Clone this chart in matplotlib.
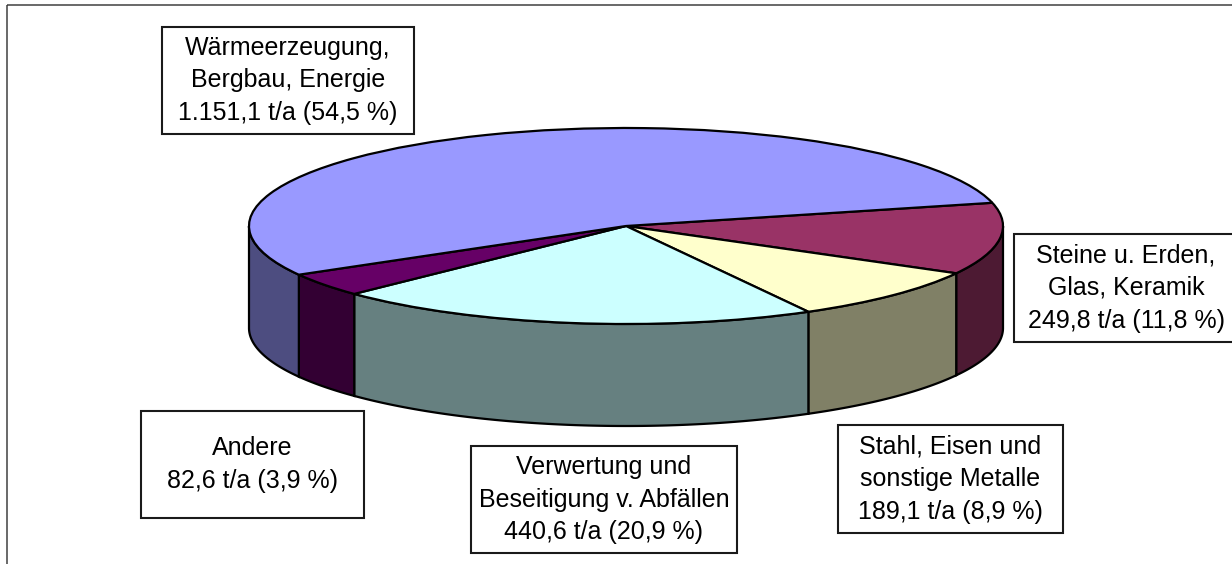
import numpy as np
import matplotlib
matplotlib.use('Agg')
import matplotlib.pyplot as plt
from matplotlib.patches import Rectangle

plt.rcParams['font.family'] = ['Liberation Sans', 'DejaVu Sans']

# Values in t/a, clockwise from the blue/maroon border
sectors = ['Steine u. Erden,\nGlas, Keramik', 'Stahl, Eisen und\nsonstige Metalle',
           'Verwertung und\nBeseitigung v. Abfällen', 'Andere', 'Wärmeerzeugung,\nBergbau, Energie']
tons = [249.8, 189.1, 440.6, 82.6, 1151.1]
value_labels = ['249,8 t/a (11,8 %)', '189,1 t/a (8,9 %)', '440,6 t/a (20,9 %)',
                '82,6 t/a (3,9 %)', '1.151,1 t/a (54,5 %)']
top_colors = ['#993366', '#FFFFCC', '#CCFFFF', '#660066', '#9999FF']
side_colors = ['#4D1A33', '#808066', '#668080', '#330033', '#4D4D80']

# Label boxes in pixels: left, top, right, bottom
boxes = [(1014, 234, 1240, 342), (838, 425, 1063, 533), (471, 446, 737, 553),
         (141, 411, 364, 518), (162, 27, 414, 134)]

W, H = 1232, 564
CX, CY, RX, RY = 626, 226, 377, 98
DEPTH = 102
START = 13.7


# Front wall of one slice, only the part between 180 and 360 degrees is visible
def drawSide(ax, a, b, color):
	a, b = a % 360, b % 360
	if b <= a:
		b += 360
	for lo, hi in ((180, 360), (540, 720)):
		t1, t2 = max(a, lo), min(b, hi)
		if t2 <= t1:
			continue
		t = np.radians(np.linspace(t1, t2, 120))
		x = np.cos(t)
		y = np.sin(t)
		d = DEPTH / RY
		ax.fill(np.r_[x, x[::-1]], np.r_[y, y[::-1] - d], fc=color, ec='black', lw=1.6, zorder=1)


fig = plt.figure(figsize=(W / 100, H / 100), dpi=100)

# Axes where the top ellipse is the unit circle
ax = fig.add_axes([0, 0, 1, 1])
ax.pie(tons, colors=top_colors, startangle=START, counterclock=False, radius=1,
       wedgeprops={'edgecolor': 'black', 'linewidth': 1.6, 'zorder': 2})
ax.set_aspect('auto')
ax.set_xlim(-CX / RX, (W - CX) / RX)
ax.set_ylim(-(H - CY) / RY, CY / RY)
ax.axis('off')

angle = START
for v, c in zip(tons, side_colors):
	next_angle = angle - v / sum(tons) * 360
	drawSide(ax, next_angle, angle, c)
	angle = next_angle

# Overlay in pixel coordinates for frame and labels
over = fig.add_axes([0, 0, 1, 1], facecolor='none')
over.set_xlim(0, W)
over.set_ylim(H, 0)
over.axis('off')
over.add_patch(Rectangle((7, 4.5), W + 20, H + 20, fc='none', ec='#404040', lw=1.1))

for name, val, b in zip(sectors, value_labels, boxes):
	x0, y0, x1, y1 = b
	over.add_patch(Rectangle((x0, y0), x1 - x0, y1 - y0, fc='white', ec='#1a1a1a', lw=1.5, zorder=3))
	xc = (x0 + min(x1, W)) / 2 + (3 if x1 > W else 0)
	over.text(xc, (y0 + y1) / 2, name + '\n' + val, ha='center', va='center', fontsize=18,
	          linespacing=1.45, color='black', zorder=4)

fig.savefig('out.png', dpi=100)
